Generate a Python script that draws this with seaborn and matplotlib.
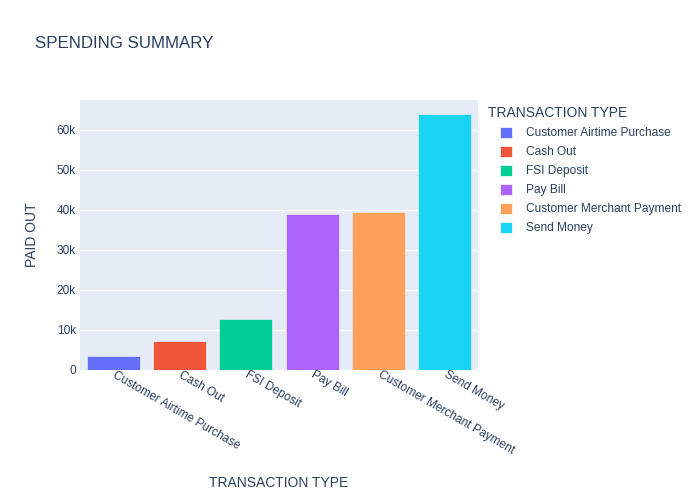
import matplotlib
matplotlib.use("Agg")
import matplotlib.pyplot as plt
import seaborn as sns
import pandas as pd
from matplotlib.patches import Patch
from matplotlib.ticker import FuncFormatter

categories = ["Customer Airtime Purchase", "Cash Out", "FSI Deposit", "Pay Bill",
              "Customer Merchant Payment", "Send Money"]
paid_out = [3400, 7270, 12800, 38900, 39600, 64050]
colors = ["#636efa", "#EF553B", "#00cc96", "#ab63fa", "#FFA15A", "#19d3f3"]
y_ticks = [0, 10000, 20000, 30000, 40000, 50000, 60000]

df = pd.DataFrame({"TRANSACTION TYPE": categories, "PAID OUT": paid_out})

sns.set_theme(style="white")
plt.rcParams["font.family"] = ["Liberation Sans", "DejaVu Sans"]
TXT = "#2a3f5f"

fig = plt.figure(figsize=(7, 5), dpi=100)
ax = fig.add_axes([80 / 700, 130 / 500, 398 / 700, 270 / 500])
ax.set_facecolor("#E5ECF6")

sns.barplot(data=df, x="TRANSACTION TYPE", y="PAID OUT", hue="TRANSACTION TYPE",
            palette=colors, order=categories, hue_order=categories,
            width=0.8, dodge=False, legend=False, ax=ax,
            edgecolor="#E5ECF6", linewidth=0.5, saturation=1, zorder=3)

ax.set_xlim(-0.5, 5.5)
ax.set_ylim(0, 67500)
ax.set_yticks(y_ticks)
ax.yaxis.set_major_formatter(FuncFormatter(lambda v, p: "0" if v == 0 else f"{int(v/1000)}k"))
ax.grid(axis="y", color="white", linewidth=1, zorder=0)
ax.set_axisbelow(True)
for s in ax.spines.values():
    s.set_visible(False)
ax.tick_params(axis="both", length=0, labelsize=8.6, colors=TXT, pad=3)
ax.set_xticks(range(len(categories)))
ax.set_xticklabels(categories, rotation=-30, ha="left", va="center",
                   rotation_mode="anchor")
ax.set_xlabel("TRANSACTION TYPE", fontsize=10, color=TXT)
ax.set_ylabel("PAID OUT", fontsize=10, color=TXT)
ax.xaxis.set_label_coords((279 - 80) / 398, (370 - 476) / 270)
ax.yaxis.set_label_coords((39 - 80) / 398, 0.5)

fig.text(35 / 700, 1 - 44 / 500, "SPENDING SUMMARY", fontsize=12.2, color=TXT,
         va="center", ha="left")
fig.text(488 / 700, 1 - 113 / 500, "TRANSACTION TYPE", fontsize=10, color=TXT,
         va="center", ha="left")

handles = [Patch(facecolor=c, edgecolor="white", linewidth=0.5) for c in colors]
leg = fig.legend(handles, categories,
                 loc="upper left", bbox_to_anchor=(500 / 700, 1 - 127 / 500),
                 frameon=False, fontsize=8.6,
                 handlelength=1.0, handleheight=1.0, handletextpad=1.15,
                 labelspacing=0.55, borderaxespad=0, borderpad=0)
for t in leg.get_texts():
    t.set_color(TXT)

fig.savefig("out.png", dpi=100)
